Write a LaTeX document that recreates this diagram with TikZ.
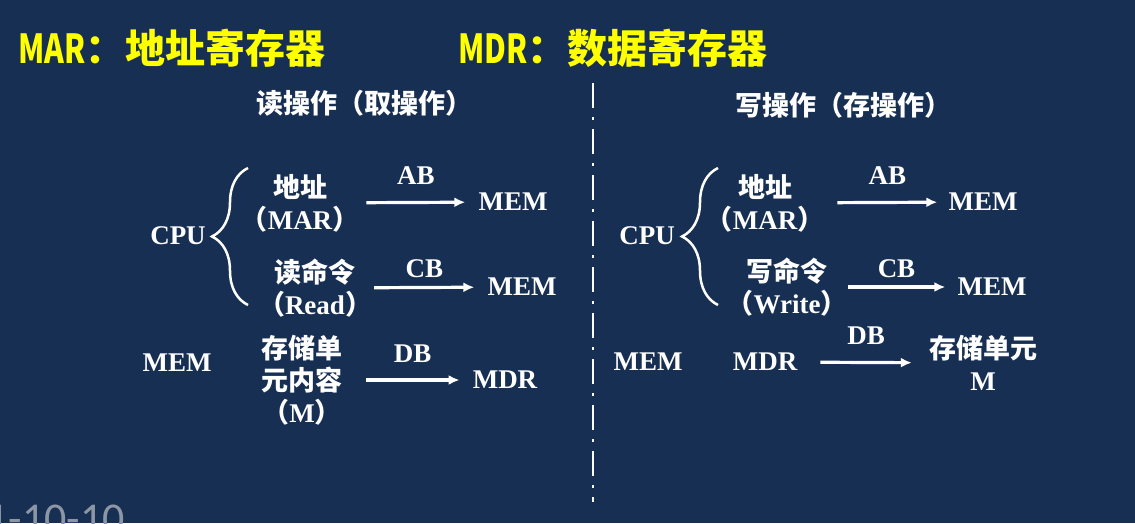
\documentclass[tikz,border=0pt]{standalone}
\usepackage{fontspec}
\setmainfont{Liberation Serif}
\newfontfamily\cjk{Noto Sans CJK SC}
\newfontfamily\datefont{Carlito}
\usetikzlibrary{arrows.meta, decorations.pathreplacing}

\definecolor{slidebg}{RGB}{23,47,82}
\definecolor{titleyellow}{RGB}{255,255,0}
\definecolor{dategray}{RGB}{140,150,165}

\newcommand{\zh}[1]{{\cjk #1}}
\newcommand{\zhparen}[1]{\zh{（}#1\zh{）}}

\begin{document}
\begin{tikzpicture}[x=1pt, y=-1pt]

        % Setup the styles for the texts and the buses
        \tikzset{unit style/.style={text=white,
                                    font=\fontsize{27}{32}\selectfont\bfseries,
                                    align=center,
                                    inner sep=5pt},
                 head style/.style={text=white,
                                    font=\fontsize{27}{30}\selectfont\cjk\bfseries,
                                    inner sep=0pt},
                 title style/.style={text=titleyellow,
                                     font=\fontsize{40}{44}\selectfont\cjk\bfseries,
                                     anchor=west,
                                     inner sep=0pt},
                 bus style/.style={draw=white,
                                   line width=3.2pt,
                                   -{Latex[length=11pt,width=10pt]}},
                 bus label/.style={unit style, anchor=south},
                 brace style/.style={decorate,
                                     decoration={brace, amplitude=36pt},
                                     line width=2.5pt,
                                     draw=white}}

        % Slide background
        \fill[slidebg] (0,0) rectangle (1135,523);
        \useasboundingbox (0,0) rectangle (1135,523);

        % Titles
        \node[title style] at (18,48)  (marT) {\scalebox{0.75}[1]{MAR}：地址寄存器};
        \node[title style] at (458,48) (mdrT) {\scalebox{0.75}[1]{MDR}：数据寄存器};
        \node[head style]  at (364,103) (readH)  {读操作（取操作）};
        \node[head style]  at (843,105) (writeH) {写操作（存操作）};

        % Read operation
        \node[unit style] at (178,236) (cpuL) {CPU};
        \node[unit style, inner xsep=7pt]  at (300,203) (addrL) {\zh{地址}\\\zhparen{MAR}};
        \node[unit style, inner xsep=13pt] at (513,202) (memA)  {MEM};
        \node[unit style, inner xsep=2pt]  at (315,288) (readL) {\zh{读命令}\\\zhparen{Read}};
        \node[unit style, inner xsep=13pt] at (522,287) (memB)  {MEM};
        \node[unit style] at (177,363) (memL) {MEM};
        \node[unit style, inner xsep=23pt] at (302,380) (cellL) {\zh{存储单}\\\zh{元内容}\\\zhparen{M}};
        \node[unit style, inner xsep=13pt] at (505,380) (mdrL)  {MDR};

        % Write operation
        \node[unit style] at (647,236) (cpuR) {CPU};
        \node[unit style, inner xsep=13pt] at (765,203) (addrR)  {\zh{地址}\\\zhparen{MAR}};
        \node[unit style, inner xsep=11pt] at (983,202) (memC)   {MEM};
        \node[unit style, inner xsep=0pt]  at (787,287) (writeL) {\zh{写命令}\\\zhparen{Write}};
        \node[unit style, inner xsep=12pt] at (992,287) (memD)   {MEM};
        \node[unit style] at (648,362) (memR) {MEM};
        \node[unit style, inner xsep=23pt] at (765,362) (mdrR)   {MDR};
        \node[unit style, inner xsep=17pt] at (983,363) (cellR)  {\zh{存储单元}\\M};

        % Braces after the CPU
        \draw[brace style] (248,305) -- (248,168);
        \draw[brace style] (718,305) -- (718,168);

        % Connect the units with the buses
        \path
            (addrL)  edge[bus style] node[bus label, above=11pt] {AB} (memA)
            (readL)  edge[bus style] node[bus label, above=3pt]  {CB} (memB)
            (cellL)  edge[bus style] node[bus label, above=11pt] {DB} (mdrL)
            (addrR)  edge[bus style] node[bus label, above=11pt] {AB} (memC)
            (writeL) edge[bus style] node[bus label, above=3pt]  {CB} (memD)
            (mdrR)   edge[bus style] node[bus label, above=11pt] {DB} (cellR);

        % Divider between read and write
        \draw[white, line width=2pt, dash pattern=on 25pt off 9pt on 3pt off 9pt]
            (593,83) -- (593,502);

        % Date in the corner
        \node[text=dategray, font=\fontsize{44}{48}\selectfont\datefont,
              anchor=base east, inner sep=0pt] at (125,533) (dateT) {1-10-10};
    \end{tikzpicture}
\end{document}
